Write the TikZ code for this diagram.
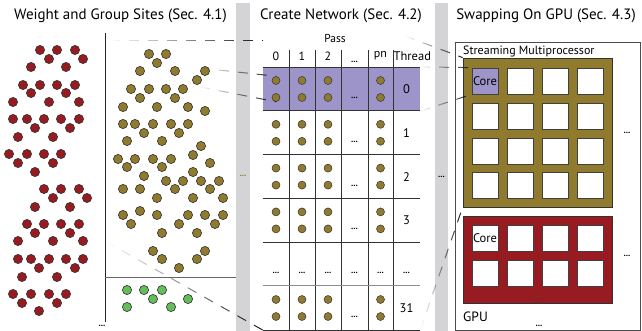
\documentclass[tikz,border=0pt]{standalone}
\usepackage{fontspec}
\setmainfont{PT Sans}
\usetikzlibrary{positioning,fadings}
\definecolor{sitered}{RGB}{152, 27, 33}
\definecolor{sitegold}{RGB}{143, 122, 45}
\definecolor{sitegreen}{RGB}{99, 190, 90}
\definecolor{lavender}{RGB}{157, 149, 201}
\definecolor{divider}{RGB}{212, 212, 215}
\newcommand{\moredots}{{\fontsize{9}{9}\selectfont\bfseries...}}

\begin{document}
\begin{tikzpicture}[x=1pt, y=-1pt,
    site/.style={circle, draw=black!80, line width=0.6pt, inner sep=0pt, minimum size=9.2pt},
    cell/.style={circle, draw=black!80, line width=0.5pt, fill=sitegold, inner sep=0pt, minimum size=8pt},
    heading/.style={font=\fontsize{15}{17}\selectfont, inner sep=0pt},
    txt/.style={font=\fontsize{12}{14}\selectfont, inner sep=0pt},
    threadrow/.style={minimum width=157pt, minimum height=43.8pt, inner sep=0pt},
    core/.style={draw=black!75, line width=0.7pt, fill=white, minimum size=26pt, inner sep=0pt, font=\fontsize{12.5}{14}\selectfont},
    link/.style={dash pattern=on 10pt off 9pt, line width=1pt, black!90, path fading=west},
    rowline/.style={black!80, line width=0.7pt}]
  \useasboundingbox (0,0) rectangle (642,331);

  % separators between the three stages
  \fill[divider] (236,3) rectangle (250,331);
  \fill[divider] (435,3) rectangle (448,331);
  \node[font=\fontsize{9}{9}\selectfont\bfseries, text=sitegold] (leftgap) at (243,176) {...};
  \node (rightgap) at (441.5,177) {\moredots};

  \node[heading] (sites)   at (120.5,16) {Weight and Group Sites (Sec. 4.1)};
  \node[heading] (network) at (341,16)   {Create Network (Sec. 4.2)};
  \node[heading] (swap)    at (546,16)   {Swapping On GPU (Sec. 4.3)};

  % weight sites and group sites
  \draw[black!85, line width=0.8pt] (105,33) -- (105,322);
  \draw[black!60, line width=1pt]   (105,277) -- (236,277);
  \node (sitesmore) at (102,326) {\moredots};

  \foreach \x/\y [count=\i] in {40/50, 57/50, 75/50, 49/59, 83/59, 31/67, 66/67,
      23/85, 40/85, 57/85, 75/85, 31/93, 66/93, 13/102, 49/102, 79/102,
      13/119, 27/119, 44/119, 61/119, 79/119, 35/128, 70/128, 18/137, 53/137,
      9/154, 27/154, 44/154, 61/154, 18/163, 53/163, 35/172,
      44/189, 61/189, 79/189, 53/198, 87/198, 35/207, 70/207,
      27/224, 44/224, 61/224, 79/224, 35/233, 70/233, 18/241, 53/241, 83/241,
      18/259, 31/259, 49/259, 66/259, 83/259, 39/268, 75/268, 22/277, 57/277,
      13/294, 31/294, 49/294, 66/294, 22/303, 57/303, 39/311}
    \node[site, fill=sitered] (weight\i) at (\x,\y) {};

  \foreach \x/\y [count=\i] in {149/54, 166/54, 157/63, 140/71, 175/71, 205/71, 197/80,
      131/89, 149/89, 166/89, 183/89, 140/98, 175/98,
      123/107, 157/107, 188/107, 205/111,
      123/124, 135/124, 153/124, 171/124, 188/124, 144/133, 179/133,
      127/141, 162/141, 201/146, 193/155,
      118/159, 135/159, 153/159, 171/159, 210/163, 127/167, 162/167, 193/172,
      144/176, 166/181, 183/181, 201/181, 219/181,
      123/189, 140/189, 175/189, 210/189, 157/198, 193/198, 223/198,
      140/211, 123/215, 157/215, 188/215, 205/215, 223/215,
      131/224, 179/224, 215/224, 162/233, 197/233,
      153/251, 205/251, 162/259, 197/259, 179/268}
    \node[site, fill=sitegold] (group\i) at (\x,\y) {};

  \foreach \x/\y [count=\i] in {127/290, 144/290, 162/290, 153/299, 188/299, 127/307, 171/307}
    \node[site, fill=sitegreen] (spare\i) at (\x,\y) {};

  % network table: passes by threads
  \node[txt, font=\fontsize{11.5}{13}\selectfont] (pass) at (335,39) {Pass};
  \foreach \x/\s [count=\c] in {276/0, 302/1, 328/2, 380.5/pn}
    \node[txt] (col\c) at (\x,56) {\s};
  \node (colgap) at (354.5,62) {\moredots};
  \node[txt, font=\fontsize{12.5}{14}\selectfont, anchor=west] (threadhead) at (393.5,56) {Thread};

  \node[threadrow, fill=lavender] (row0) at (341.5,89) {};
  \foreach \r in {1,...,5}
    \node[threadrow] (row\r) at (341.5,{89+43.8*\r}) {};

  \foreach \x in {289,315,341,368,393}
    \draw[rowline] (\x,50) -- (\x,329.8);
  \foreach \r in {0,...,4}
    \draw[rowline] (row\r.north west) -- (row\r.north east);
  \draw[black!45, line width=1.1pt] (row5.north west) -- (row5.north east);
  \draw[rowline] (row5.south west) -- (row5.south east);

  \foreach \r/\n in {0/0, 1/1, 2/2, 3/3, 5/31} {
    \foreach \x [count=\c] in {276,302,328,380.5} {
      \node[cell] (cell-\r-\c-1) at (\x,{89+43.8*\r-8.5}) {};
      \node[cell] (cell-\r-\c-2) at (\x,{89+43.8*\r+8.5}) {};
    }
    \node (gap\r) at (354.5,{89+43.8*\r+9}) {\moredots};
    \node[txt, font=\fontsize{12.5}{14}\selectfont] (thread\r) at (406.5,{89+43.8*\r}) {\n};
  }
  \foreach \x [count=\c] in {276,302,328,354.5,380.5,406.5}
    \node (skip\c) at (\x,273) {\moredots};

  % gpu with its streaming multiprocessors
  \node[draw=black!70, line width=0.8pt, minimum width=185pt, minimum height=288pt, inner sep=0pt] (gpu) at (547.5,186) {};
  \node[txt, anchor=west] (smname) at (463,52) {Streaming Multiprocessor};
  \node[draw=black!80, fill=sitegold, line width=0.8pt, minimum width=149pt, minimum height=149pt, inner sep=0pt] (sm) at (537.5,132.5) {};
  \foreach \y [count=\j] in {81,116,151,185}
    \foreach \x [count=\i] in {485,520,555,590}
      \node[core] (sm-\j-\i) at (\x,\y) {};
  \node[core, fill=lavender] (smfirst) at (sm-1-1) {Core};
  \node (smmore) at (627,133) {\moredots};

  \node[draw=black!80, fill=sitered, line width=0.8pt, minimum width=149pt, minimum height=87pt, inner sep=0pt] (sm2) at (537.5,259.5) {};
  \foreach \y [count=\j] in {238,273}
    \foreach \x [count=\i] in {485,520,555,590}
      \node[core] (smb-\j-\i) at (\x,\y) {};
  \node[core] (smbfirst) at (smb-1-1) {Core};
  \node[text=black!70] (smbmore) at (537.5,297) {\moredots};
  \node (sm2more) at (627,256) {\moredots};
  \node[anchor=west, font=\fontsize{13.5}{15}\selectfont, inner sep=0pt] (gpuname) at (463,317) {GPU};
  \node (gpumore) at (539,326) {\moredots};

  % which sites go where
  \coordinate (siteTop) at (110,41);
  \coordinate (passTop) at (263,41);
  \coordinate (pickA)   at (200,68);
  \coordinate (pickB)   at (200,87);
  \coordinate (pickC)   at (105,241);
  \coordinate (netTop)  at (405,36);
  \draw[link] (siteTop) -- (passTop);
  \draw[link] (pickA) -- (cell-0-1-1.north);
  \draw[link] (pickB) -- (cell-0-1-2.south);
  \draw[link] (pickC) -- (row5.south west);
  \draw[link] (netTop) -- (sm.north west);
  \draw[link] (row0.north east) -- (sm-1-1.north west);
  \draw[link] (row0.south east) -- (sm-1-1.south west);
  \draw[link] (row5.south east) -- (sm.south west);
\end{tikzpicture}
\end{document}
